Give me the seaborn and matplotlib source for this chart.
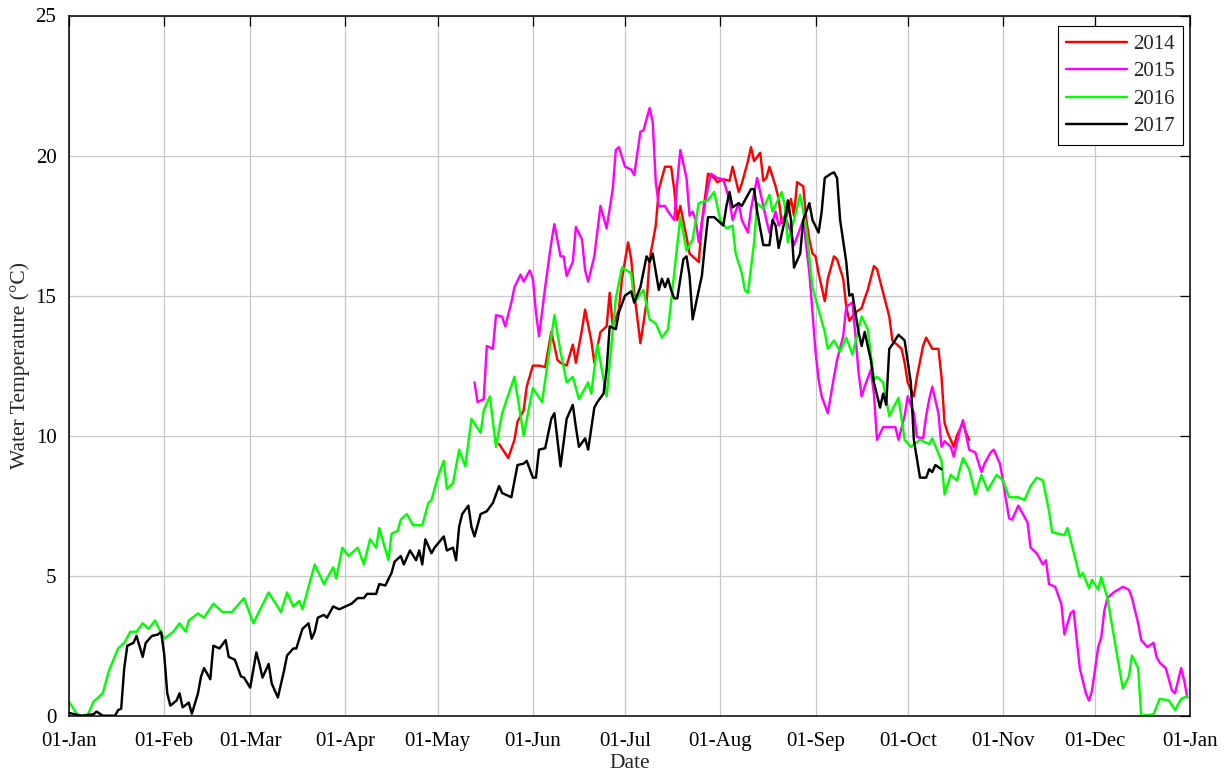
import numpy as np
import pandas as pd
import matplotlib
matplotlib.use("Agg")
import matplotlib.pyplot as plt
import seaborn as sns

# Daily water temperature (°C) by day of year (0 = 1 January)
days_2014 = [140, 143, 145, 146, 148, 149, 151, 153, 155, 157, 159, 160, 162, 164, 165, 167, 168, 170, 171, 173,
             175, 176, 177, 179, 180, 182, 183, 184, 186, 188, 189, 191, 192, 194, 196, 197, 198, 199, 201, 202,
             204, 205, 206, 208, 210, 211, 213, 215, 216, 218, 219, 221, 222, 223, 225, 226, 227, 228, 230, 231,
             232, 233, 235, 236, 237, 239, 240, 241, 242, 243, 244, 246, 247, 249, 250, 252, 253, 254, 256, 258,
             259, 260, 262, 263, 265, 267, 268, 270, 271, 272, 273, 275, 276, 278, 279, 281, 283, 284, 285, 286,
             288, 289, 291, 292, 293]
temp_2014 = [9.7, 9.2, 9.85, 10.5, 10.9, 11.75, 12.5, 12.5, 12.45, 13.7, 12.7, 12.6, 12.5, 13.25, 12.6, 13.8, 14.5,
             13.4, 12.6, 13.7, 13.9, 15.1, 13.9, 14.5, 15.6, 16.9, 16.3, 15.1, 13.3, 14.75, 16.3, 17.5, 18.8, 19.6,
             19.6, 18.8, 17.7, 18.2, 17.1, 16.5, 16.3, 16.2, 17.6, 19.35, 19.2, 19.05, 19.15, 19.1, 19.6, 18.7, 19.0,
             19.8, 20.3, 19.8, 20.1, 19.1, 19.2, 19.6, 18.9, 18.45, 17.6, 17.6, 18.45, 17.85, 19.05, 18.9, 17.7, 17.0,
             16.5, 16.4, 15.8, 14.8, 15.6, 16.4, 16.3, 15.6, 14.6, 14.1, 14.4, 14.55, 14.9, 15.2, 16.05, 15.95, 15.1,
             14.25, 13.4, 13.2, 13.1, 12.6, 11.9, 11.4, 12.1, 13.2, 13.5, 13.1, 13.1, 12.1, 10.45, 10.1, 9.6, 10.0,
             10.45, 10.1, 9.85]

days_2015 = [132, 133, 135, 136, 138, 139, 141, 142, 144, 145, 147, 148, 150, 151, 152, 153, 155, 157, 158, 160,
             161, 162, 164, 165, 167, 168, 169, 171, 173, 175, 177, 178, 179, 181, 183, 184, 186, 187, 188, 189,
             190, 191, 192, 194, 195, 197, 198, 199, 201, 202, 203, 204, 205, 206, 208, 209, 211, 213, 215, 216,
             217, 218, 219, 221, 222, 224, 226, 227, 228, 230, 231, 233, 235, 236, 238, 239, 241, 242, 243, 244,
             245, 247, 249, 250, 252, 253, 255, 256, 257, 258, 259, 261, 262, 263, 265, 267, 269, 270, 272, 273,
             275, 276, 278, 279, 280, 281, 283, 284, 285, 287, 288, 290, 291, 293, 295, 297, 298, 300, 301, 303,
             304, 305, 306, 307, 309, 310, 312, 313, 315, 317, 318, 319, 321, 323, 324, 326, 327, 329, 330, 331,
             332, 333, 335, 336, 337, 338, 340, 343, 345, 346, 348, 349, 351, 353, 354, 355, 357, 359, 360, 361,
             362, 363, 364]
temp_2015 = [11.9, 11.2, 11.3, 13.2, 13.1, 14.3, 14.25, 13.9, 14.75, 15.3, 15.75, 15.5, 15.9, 15.6, 14.4, 13.55,
             15.3, 16.9, 17.55, 16.4, 16.4, 15.7, 16.2, 17.45, 17.0, 15.9, 15.5, 16.4, 18.2, 17.4, 18.8, 20.2, 20.3,
             19.6, 19.5, 19.3, 20.85, 20.9, 21.3, 21.7, 21.2, 19.05, 18.2, 18.2, 18.0, 17.7, 19.05, 20.2, 19.2, 17.85,
             18.0, 17.7, 16.9, 17.6, 18.9, 19.35, 19.2, 19.15, 18.4, 17.7, 18.0, 18.3, 17.7, 17.25, 18.1, 19.2, 18.2,
             17.7, 17.25, 18.0, 17.5, 17.85, 17.25, 16.8, 17.4, 17.7, 15.8, 14.4, 13.0, 12.0, 11.4, 10.8, 12.1, 12.7,
             13.55, 14.6, 14.75, 13.55, 12.25, 11.4, 11.75, 12.35, 11.5, 9.85, 10.3, 10.3, 10.3, 9.85, 10.7, 11.4,
             10.8, 9.95, 9.9, 10.7, 11.3, 11.75, 10.8, 9.6, 9.8, 9.6, 9.25, 10.2, 10.55, 9.5, 9.4, 8.7, 9.0, 9.4, 9.5,
             9.0, 8.4, 7.7, 7.05, 7.0, 7.5, 7.3, 6.9, 6.0, 5.8, 5.4, 5.55, 4.7, 4.6, 4.0, 2.9, 3.65, 3.75, 1.7, 1.25,
             0.8, 0.54, 0.9, 2.45, 2.8, 3.75, 4.2, 4.4, 4.6, 4.5, 4.2, 3.3, 2.7, 2.45, 2.6, 2.1, 1.9, 1.7, 0.9, 0.8,
             1.25, 1.7, 1.25, 0.65]

days_2016 = [0, 3, 6, 8, 11, 13, 16, 18, 20, 22, 24, 26, 28, 31, 34, 36, 38, 39, 42, 44, 47, 50, 53, 57, 60, 65,
             69, 71, 73, 75, 76, 80, 83, 86, 87, 89, 91, 94, 96, 98, 100, 101, 104, 105, 107, 108, 110, 112, 115,
             117, 118, 120, 122, 123, 125, 127, 129, 131, 134, 135, 137, 139, 141, 145, 148, 151, 154, 158, 160,
             162, 164, 166, 169, 170, 172, 175, 178, 180, 183, 184, 187, 189, 191, 193, 195, 197, 199, 201, 203,
             205, 208, 210, 212, 214, 216, 217, 219, 220, 221, 223, 224, 226, 228, 229, 232, 233, 234, 236, 238,
             240, 242, 246, 247, 249, 251, 253, 255, 258, 260, 262, 263, 265, 267, 270, 272, 274, 277, 280, 281,
             284, 285, 287, 289, 291, 293, 295, 297, 299, 302, 304, 306, 309, 311, 313, 315, 317, 319, 320, 324,
             325, 327, 329, 330, 332, 333, 335, 336, 338, 340, 343, 345, 346, 348, 349, 353, 355, 358, 360, 362, 364]
temp_2016 = [0.5, 0.0, 0.0, 0.5, 0.8, 1.6, 2.4, 2.6, 3.0, 3.0, 3.3, 3.1, 3.4, 2.75, 3.0, 3.3, 3.0, 3.4, 3.65, 3.5,
             4.0, 3.7, 3.7, 4.2, 3.3, 4.4, 3.7, 4.4, 3.9, 4.1, 3.8, 5.4, 4.7, 5.3, 4.9, 6.0, 5.7, 6.0, 5.4, 6.3, 6.0,
             6.7, 5.55, 6.5, 6.6, 7.0, 7.2, 6.8, 6.8, 7.6, 7.7, 8.5, 9.1, 8.1, 8.3, 9.5, 8.9, 10.6, 10.1, 10.9, 11.4,
             9.6, 10.8, 12.1, 10.0, 11.7, 11.2, 14.3, 13.0, 11.9, 12.1, 11.3, 11.9, 11.5, 13.25, 11.4, 14.9, 16.0,
             15.8, 14.75, 15.2, 14.15, 14.0, 13.5, 13.8, 15.8, 17.8, 16.6, 17.0, 18.3, 18.4, 18.7, 17.7, 17.4, 17.5,
             16.5, 15.8, 15.2, 15.1, 16.9, 18.3, 18.1, 18.6, 18.0, 18.7, 18.2, 16.9, 17.7, 18.6, 17.4, 15.3, 13.7,
             13.1, 13.4, 13.0, 13.5, 12.9, 14.25, 13.8, 12.0, 12.1, 11.9, 10.7, 11.35, 9.85, 9.6, 9.85, 9.7, 9.9,
             9.1, 7.9, 8.6, 8.4, 9.2, 8.8, 7.9, 8.6, 8.05, 8.6, 8.4, 7.8, 7.8, 7.7, 8.2, 8.5, 8.4, 7.3, 6.55, 6.45,
             6.7, 5.85, 4.95, 5.1, 4.55, 4.85, 4.5, 4.95, 4.2, 2.9, 0.97, 1.4, 2.15, 1.7, 0.0, 0.05, 0.6, 0.55, 0.2,
             0.6, 0.7]

days_2017 = [0, 4, 8, 9, 11, 15, 16, 17, 18, 19, 21, 22, 24, 25, 27, 29, 30, 31, 32, 33, 35, 36, 37, 39, 40, 42,
             43, 44, 46, 47, 49, 51, 52, 54, 56, 57, 59, 61, 62, 63, 65, 66, 68, 70, 71, 73, 74, 76, 78, 79, 80, 81,
             83, 84, 86, 88, 90, 92, 94, 96, 97, 100, 101, 103, 105, 106, 108, 109, 111, 113, 114, 115, 116, 118,
             119, 122, 123, 125, 126, 127, 128, 130, 131, 132, 134, 136, 138, 140, 141, 144, 146, 148, 149, 151,
             152, 153, 155, 157, 158, 160, 162, 164, 165, 166, 168, 169, 171, 172, 174, 175, 176, 178, 179, 181,
             183, 184, 186, 188, 189, 190, 192, 193, 194, 195, 196, 197, 198, 200, 201, 202, 203, 205, 206, 207,
             208, 210, 211, 213, 214, 215, 216, 218, 219, 220, 222, 223, 224, 226, 228, 229, 230, 231, 233, 234,
             235, 236, 238, 239, 241, 242, 244, 245, 246, 248, 249, 250, 251, 253, 254, 255, 257, 258, 259, 261,
             262, 264, 265, 266, 267, 268, 270, 271, 272, 274, 275, 277, 279, 280, 281, 282, 284]
temp_2017 = [0.1, 0.0, 0.05, 0.15, 0.0, 0.0, 0.2, 0.25, 1.7, 2.5, 2.6, 2.85, 2.1, 2.6, 2.85, 2.9, 3.0, 2.2, 0.8,
             0.36, 0.54, 0.8, 0.3, 0.47, 0.07, 0.8, 1.4, 1.7, 1.3, 2.5, 2.4, 2.7, 2.1, 2.0, 1.4, 1.36, 1.0, 2.26,
             1.85, 1.36, 1.85, 1.15, 0.65, 1.6, 2.15, 2.4, 2.4, 3.1, 3.3, 2.75, 3.0, 3.5, 3.6, 3.5, 3.9, 3.8, 3.9,
             4.0, 4.2, 4.2, 4.35, 4.35, 4.7, 4.65, 5.1, 5.5, 5.7, 5.4, 5.9, 5.55, 5.9, 5.4, 6.3, 5.8, 6.0, 6.4, 5.9,
             6.0, 5.55, 6.75, 7.2, 7.5, 6.75, 6.4, 7.2, 7.3, 7.6, 8.2, 7.95, 7.8, 8.95, 9.0, 9.1, 8.5, 8.5, 9.5,
             9.55, 10.6, 10.8, 8.9, 10.6, 11.1, 10.3, 9.6, 9.9, 9.5, 11.0, 11.2, 11.5, 12.35, 13.9, 13.8, 14.4,
             15.0, 15.15, 14.75, 15.3, 16.4, 16.2, 16.5, 15.2, 15.6, 15.3, 15.6, 15.2, 14.9, 14.9, 16.3, 16.4, 15.7,
             14.15, 15.2, 15.7, 16.8, 17.8, 17.8, 17.7, 17.5, 18.2, 18.7, 18.15, 18.3, 18.2, 18.4, 18.8, 18.8, 18.0,
             16.8, 16.8, 17.7, 17.5, 16.7, 17.7, 18.4, 17.7, 16.0, 16.5, 17.7, 18.3, 17.7, 17.25, 18.0, 19.2, 19.35,
             19.4, 19.2, 17.7, 16.2, 15.0, 15.05, 13.7, 13.2, 13.7, 12.7, 11.9, 11.0, 11.5, 11.1, 13.1, 13.25, 13.6,
             13.5, 13.4, 11.9, 9.85, 8.5, 8.5, 8.8, 8.7, 8.95, 8.8]

years = ["2014", "2015", "2016", "2017"]
colors = ["#ff0000", "#ff00ff", "#00ff00", "#000000"]
month_ticks = ["01-Jan", "01-Feb", "01-Mar", "01-Apr", "01-May", "01-Jun", "01-Jul",
               "01-Aug", "01-Sep", "01-Oct", "01-Nov", "01-Dec", "01-Jan"]
temp_ticks = [0, 5, 10, 15, 20, 25]

# Every year is placed on one common (non-leap) calendar so the seasons line up
base = pd.Timestamp("2001-01-01")
series = {"2014": (days_2014, temp_2014), "2015": (days_2015, temp_2015),
          "2016": (days_2016, temp_2016), "2017": (days_2017, temp_2017)}
frames = []
for yr in years:
    d, t = series[yr]
    frames.append(pd.DataFrame({
        "Date": base + pd.to_timedelta(np.array(d), unit="D"),
        "Temperature": t,
        "Year": yr,
    }))
df = pd.concat(frames, ignore_index=True)

sns.set_style("white")
plt.rcParams["font.family"] = ["Liberation Serif", "DejaVu Serif"]

fig = plt.figure(figsize=(12.31, 7.75), dpi=100)
ax = fig.add_axes([0.056, 0.0765, 0.911, 0.9035])

sns.lineplot(data=df, x="Date", y="Temperature", hue="Year", hue_order=years,
             palette=dict(zip(years, colors)), estimator=None, sort=True,
             linewidth=1.75, ax=ax)

ax.set_xlim(base, pd.Timestamp("2002-01-01"))
ax.set_ylim(0, 25)
tick_dates = pd.date_range("2001-01-01", "2002-01-01", freq="MS")
ax.set_xticks(tick_dates)
ax.set_xticklabels(month_ticks)
ax.set_yticks(temp_ticks)
ax.set_yticklabels([str(v) for v in temp_ticks])

ax.grid(True, color="#c8c8c8", linewidth=0.9)
ax.set_axisbelow(True)
ax.tick_params(axis="both", direction="in", length=7, width=0.9, top=True, right=True,
               labelsize=15, colors="#000000")
ax.tick_params(axis="x", pad=12)
ax.tick_params(axis="y", pad=9)
for side in ax.spines.values():
    side.set_color("#000000")
    side.set_linewidth(1.1)

ax.set_xlabel("Date", fontsize=15.5, labelpad=2)
ax.set_ylabel("Water Temperature (\u00b0C)", fontsize=15.5, labelpad=4)

leg = ax.legend(loc="upper right", bbox_to_anchor=(1183 / 1231, 1 - 26 / 775),
                bbox_transform=fig.transFigure, fontsize=15, frameon=True, fancybox=False,
                edgecolor="#000000", framealpha=1, handlelength=2.9,
                borderaxespad=0, labelspacing=0.38, handletextpad=0.3,
                borderpad=0.4)
leg.get_frame().set_linewidth(0.8)
leg.set_title(None)

fig.savefig("out.png", dpi=100)
